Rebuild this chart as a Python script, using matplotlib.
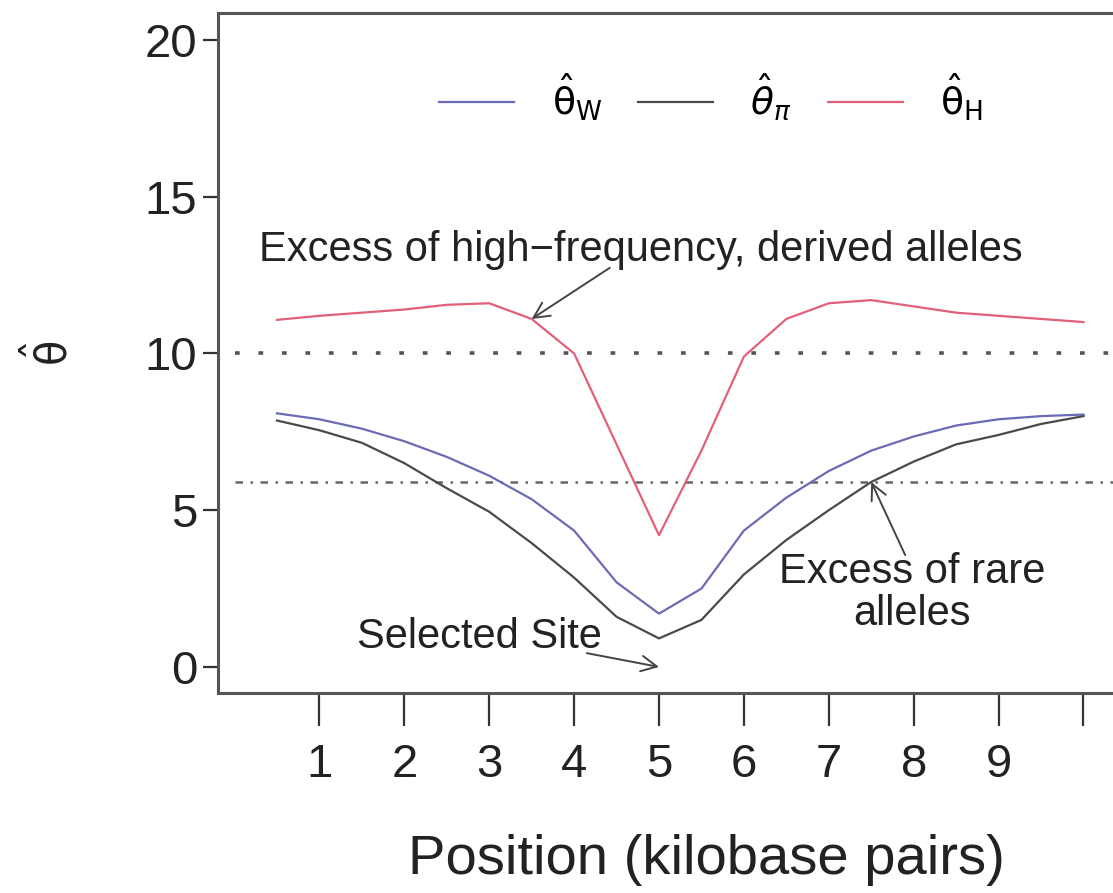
import matplotlib
matplotlib.use("Agg")
from matplotlib import pyplot as plt

plt.rcParams['font.family'] = ['Liberation Sans', 'DejaVu Sans']
plt.rcParams['mathtext.fontset'] = 'dejavusans'

# positions along the sequence (kb) and the three estimators
pos = [0.5, 1.0, 1.5, 2.0, 2.5, 3.0, 3.5, 4.0, 4.5, 5.0,
       5.5, 6.0, 6.5, 7.0, 7.5, 8.0, 8.5, 9.0, 9.5, 10.0]
theta_w = [8.09, 7.9, 7.6, 7.2, 6.7, 6.1, 5.35, 4.35, 2.7, 1.7,
           2.5, 4.35, 5.4, 6.25, 6.9, 7.35, 7.7, 7.9, 8.0, 8.05]
theta_pi = [7.86, 7.55, 7.15, 6.5, 5.7, 4.95, 3.95, 2.85, 1.6, 0.91,
            1.5, 2.95, 4.05, 5.0, 5.9, 6.55, 7.1, 7.4, 7.75, 8.0]
theta_h = [11.07, 11.2, 11.3, 11.4, 11.55, 11.6, 11.1, 10.0, 7.1, 4.2,
           6.9, 9.9, 11.1, 11.6, 11.7, 11.5, 11.3, 11.2, 11.1, 11.0]
ref_levels = [10, 5.9]
selected_site = 5
xticks = [1, 2, 3, 4, 5, 6, 7, 8, 9, 10]
xticklabels = ['1', '2', '3', '4', '5', '6', '7', '8', '9', '']
yticks = [0, 5, 10, 15, 20]

fig = plt.figure(figsize=(11.13, 8.93), dpi=100)
ax = fig.add_axes([0.1959, 0.224, 0.8119, 0.7615])

ax.hlines(ref_levels[0], 0, 10.6, colors='#555555', linestyles=(0, (1.3, 5.2)), linewidth=2.6)
ax.hlines(ref_levels[1], 0, 10.6, colors='#666666', linestyles=(0, (3, 3, 1, 3)), linewidth=1.8)

ax.plot(pos, theta_w, color='#6b6bb5', lw=1.6, label=r'$\hat{\mathrm{\theta}}_{\mathrm{W}}$')
ax.plot(pos, theta_pi, color='#4a4a4a', lw=1.6, label=r'$\hat{\theta}_{\pi}$')
ax.plot(pos, theta_h, color='#e2607a', lw=1.6, label=r'$\hat{\mathrm{\theta}}_{\mathrm{H}}$')

ax.set_xlim(-0.194, 10.45)
ax.set_ylim(-0.83, 20.86)

ax.set_xticks(xticks)
ax.set_xticklabels(xticklabels)
ax.set_yticks(yticks)
ax.tick_params(axis='x', length=24, width=1.6, color='#333333', pad=12, labelsize=34, labelcolor='#222222')
ax.tick_params(axis='y', length=11, width=1.6, color='#333333', pad=4, labelsize=34, labelcolor='#222222')
for s in ax.spines.values():
    s.set_color('#555555')
    s.set_linewidth(2.2)

ax.set_xlabel('Position (kilobase pairs)', fontsize=40.5, color='#222222')
ax.xaxis.label.set_va('center')
ax.xaxis.set_label_coords(0.541, -0.2456)
ax.set_ylabel(r'$\hat{\mathrm{\theta}}$', fontsize=30, color='#222222')
ax.yaxis.label.set_va('center')
ax.yaxis.set_label_coords(-0.186, 0.5)

leg = ax.legend(loc='center left', bbox_to_anchor=(0.245, 0.876), ncol=3, frameon=False,
                fontsize=27, handlelength=2.0, handletextpad=1.0, columnspacing=0.95,
                borderpad=0, borderaxespad=0)

arrow = dict(arrowstyle='->', color='#444444', lw=1.4, mutation_scale=28, shrinkA=0, shrinkB=0)
txt_color = '#222222'

ax.text(4.79, 13.3, 'Excess of high\u2212frequency, derived alleles', fontsize=30,
        ha='center', va='center', color=txt_color)
ax.annotate('', xy=(pos[6], theta_h[6]), xytext=(4.42, 12.73), arrowprops=arrow)

ax.text(7.98, 2.35, 'Excess of rare\nalleles', fontsize=30, ha='center', va='center',
        color=txt_color, linespacing=1.05)
ax.annotate('', xy=(pos[14], theta_pi[14]), xytext=(7.9, 3.57), arrowprops=arrow)

ax.text(2.89, 0.96, 'Selected Site', fontsize=30, ha='center', va='center', color=txt_color)
ax.annotate('', xy=(selected_site, 0), xytext=(4.15, 0.44), arrowprops=arrow)

fig.savefig('out.png', dpi=100)
